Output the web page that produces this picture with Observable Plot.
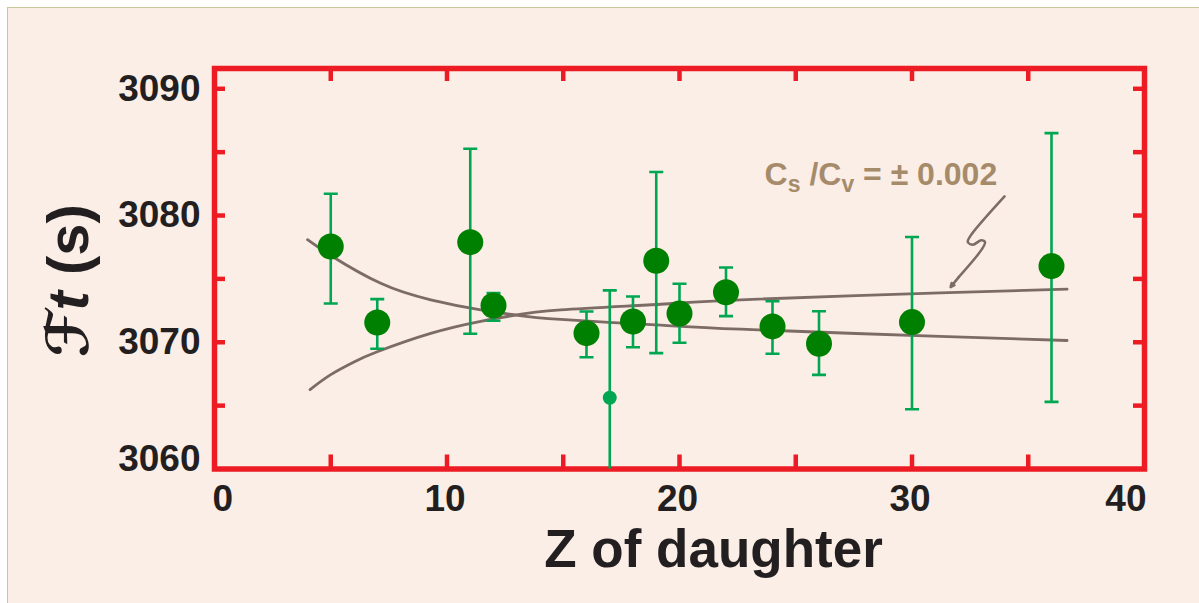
<!DOCTYPE html>
<html>
<head>
<meta charset="utf-8">
<script src="https://cdn.jsdelivr.net/npm/d3@7"></script>
<script src="https://cdn.jsdelivr.net/npm/@observablehq/plot@0.6"></script>
<style>
  html, body { margin: 0; padding: 0; background: #ffffff; overflow: hidden; }
  #wrap { position: absolute; left: 7px; top: 7px; width: 1200px; height: 600px;
          background: #fbeee6; border: 1.5px solid #cbc79d; }
  #chart { position: absolute; left: 0; top: 0; }
</style>
</head>
<body>
<div id="wrap"></div>
<div id="chart"></div>
<script>
// ---- Data: Z of daughter nucleus and corrected Ft values (s) ----
const Z      = [5, 7, 11, 12, 16, 17, 18, 19, 20, 22, 24, 26, 30, 36];
const ft     = [3077.56, 3071.56, 3077.90, 3072.90, 3070.72, 3065.62, 3071.64, 3076.43, 3072.27, 3073.95, 3071.25, 3069.88, 3071.59, 3076.01];
const ftLow  = [3073.06, 3069.49, 3070.67, 3071.70, 3068.82, 3057.15, 3069.61, 3069.14, 3069.96, 3072.06, 3069.09, 3067.43, 3064.72, 3065.30];
const ftHigh = [3081.72, 3073.40, 3085.27, 3073.88, 3072.43, 3074.09, 3073.61, 3083.43, 3074.62, 3075.90, 3073.24, 3072.45, 3078.30, 3086.50];
const excluded = [false, false, false, false, false, true, false, false, false, false, false, false, false, false];

// Curves for Cs/Cv = +0.002 and -0.002
const curveDecZ  = [4.0, 5.0, 7.15, 9.3, 11.45, 12.87, 14.89, 19.19, 22.63, 31.2, 36.67];
const curveDecFt = [3078.09, 3076.85, 3074.65, 3073.35, 3072.55, 3072.17, 3071.80, 3071.35, 3071.03, 3070.46, 3070.14];
const curveIncZ  = [4.11, 5.0, 6.0, 7.0, 9.3, 11.45, 12.87, 14.89, 19.19, 22.63, 31.2, 36.67];
const curveIncFt = [3066.27, 3067.45, 3068.45, 3069.25, 3070.70, 3071.65, 3072.12, 3072.55, 3073.00, 3073.35, 3073.90, 3074.19];

// Axis ticks
const xTickLabels = [0, 10, 20, 30, 40];
const xMinorTicks = [5, 10, 15, 20, 25, 30, 35];
const yTickLabels = [3060, 3070, 3080, 3090];
const yMinorTicks = [3065, 3070, 3075, 3080, 3085, 3090];

// Annotation
const annotationText = "Cs /Cv = ± 0.002";
const annotationAnchorZ = [23.66];
const annotationAnchorFt = [3082.37];
const arrowZ  = [33.98, 32.48, 32.40, 32.62, 32.98, 33.14, 33.02, 32.01];
const arrowFt = [3081.51, 3078.30, 3077.90, 3077.70, 3078.05, 3077.90, 3077.38, 3075.14];
const arrowTip = {z: 31.66, ft: 3074.35};

const xLabel = "Z of daughter";
const yLabel = "ℱt (s)";

// ---- Build tables ----
const points = Z.map((z, i) => ({z, ft: ft[i], lo: ftLow[i], hi: ftHigh[i], excl: excluded[i]}));
const mainPts = points.filter(d => !d.excl);
const exclPts = points.filter(d => d.excl);
const curveDec = curveDecZ.map((z, i) => ({z, ft: curveDecFt[i]}));
const curveInc = curveIncZ.map((z, i) => ({z, ft: curveIncFt[i]}));
const arrowLine = arrowZ.map((z, i) => ({z, ft: arrowFt[i]}));
const arrowLast = [{z1: arrowZ[arrowZ.length - 1], ft1: arrowFt[arrowFt.length - 1], z2: arrowTip.z, ft2: arrowTip.ft}];
const annotation = annotationAnchorZ.map((z, i) => ({z, ft: annotationAnchorFt[i]}));

const capSymbol = {
  draw(context, size) {
    const w = Math.sqrt(size / Math.PI);
    context.moveTo(-w, 0);
    context.lineTo(w, 0);
  }
};

const RED = "#ed1c24";
const GREEN_BAR = "#00a651";
const GREEN_DOT = "#008000";
const CURVE = "#7d6b66";
const TXT = "#231f20";
const FONT = "'Liberation Sans', Arial, Helvetica, sans-serif";
const lbl = d => String(d);

const plot = Plot.plot({
  width: 1199,
  height: 603,
  marginLeft: 214,
  marginRight: 55,
  marginTop: 68,
  marginBottom: 134.5,
  style: {background: "transparent", fontFamily: FONT, overflow: "visible"},
  x: {domain: [0, 40], axis: null},
  y: {domain: [3060, 3091.6], axis: null},
  marks: [
    // inward ticks on all four sides
    Plot.axisX(xMinorTicks, {anchor: "bottom", tickSize: -14, fill: "none", label: null, stroke: RED, strokeWidth: 4.5}),
    Plot.axisX(xMinorTicks, {anchor: "top", tickSize: -12, fill: "none", label: null, stroke: RED, strokeWidth: 4.5}),
    Plot.axisY(yMinorTicks, {anchor: "left", tickSize: -11, fill: "none", label: null, stroke: RED, strokeWidth: 4.5}),
    Plot.axisY(yMinorTicks, {anchor: "right", tickSize: -12, fill: "none", label: null, stroke: RED, strokeWidth: 4.5}),
    Plot.frame({stroke: RED, strokeWidth: 5.5}),

    // tick labels
    Plot.text(xTickLabels.filter(d => d === xTickLabels[0]), {x: d => d, text: lbl, frameAnchor: "bottom", textAnchor: "start", lineAnchor: "bottom", dy: 41.5, dx: -2, fontSize: 37, fontWeight: "bold", fill: TXT}),
    Plot.text(xTickLabels.slice(1, -1), {x: d => d, text: lbl, frameAnchor: "bottom", textAnchor: "middle", lineAnchor: "bottom", dy: 41.5, dx: -2, fontSize: 37, fontWeight: "bold", fill: TXT}),
    Plot.text(xTickLabels.filter(d => d === xTickLabels[xTickLabels.length - 1]), {x: d => d, text: lbl, frameAnchor: "bottom", textAnchor: "end", lineAnchor: "bottom", dy: 41.5, dx: 2, fontSize: 37, fontWeight: "bold", fill: TXT}),
    Plot.text(yTickLabels.slice(1), {y: d => d, text: lbl, frameAnchor: "left", textAnchor: "end", lineAnchor: "middle", dx: -14, fontSize: 37, fontWeight: "bold", fill: TXT}),
    Plot.text(yTickLabels.slice(0, 1), {y: d => d, text: lbl, frameAnchor: "left", textAnchor: "end", lineAnchor: "middle", dx: -14, dy: -9.5, fontSize: 37, fontWeight: "bold", fill: TXT}),

    // axis titles
    Plot.text([xLabel], {frameAnchor: "bottom", textAnchor: "middle", lineAnchor: "bottom", dx: 34, dy: 98, fontSize: 53, fontWeight: "bold", fill: TXT}),
    Plot.text([yLabel], {frameAnchor: "left", rotate: -90, textAnchor: "middle", lineAnchor: "bottom", dx: -127, dy: 12, fontSize: 58, fontWeight: "bold", fill: TXT}),

    // model curves
    Plot.line(curveDec, {x: "z", y: "ft", curve: "natural", stroke: CURVE, strokeWidth: 2.8}),
    Plot.line(curveInc, {x: "z", y: "ft", curve: "natural", stroke: CURVE, strokeWidth: 2.8}),

    // error bars and caps
    Plot.ruleX(points, {x: "z", y1: "lo", y2: "hi", stroke: GREEN_BAR, strokeWidth: 2.6, clip: true}),
    Plot.dot(points, {x: "z", y: "hi", symbol: capSymbol, r: 7, fill: "none", stroke: GREEN_BAR, strokeWidth: 2.6, clip: true}),
    Plot.dot(points, {x: "z", y: "lo", symbol: capSymbol, r: 7, fill: "none", stroke: GREEN_BAR, strokeWidth: 2.6, clip: true}),

    // data points
    Plot.dot(mainPts, {x: "z", y: "ft", r: 13, fill: GREEN_DOT, stroke: "none"}),
    Plot.dot(exclPts, {x: "z", y: "ft", r: 7, fill: GREEN_BAR, stroke: "none"}),

    // annotation
    Plot.line(arrowLine, {x: "z", y: "ft", curve: "catmull-rom", stroke: CURVE, strokeWidth: 2.5}),
    Plot.arrow(arrowLast, {x1: "z1", y1: "ft1", x2: "z2", y2: "ft2", stroke: CURVE, strokeWidth: 2.5, headLength: 14, headAngle: 50}),
    Plot.text(annotation, {x: "z", y: "ft", text: () => annotationText, textAnchor: "start", lineAnchor: "bottom", fontSize: 32, fontWeight: "bold", fill: "#a68b6b"})
  ]
});

document.getElementById("chart").appendChild(plot);

// Rich text: subscripts in the annotation, script F and italic t in the y title
const svg = d3.select(plot);
svg.selectAll("text").filter(function() { return this.textContent === annotationText; }).each(function() {
  const t = d3.select(this);
  t.text(null);
  t.append("tspan").text("C");
  t.append("tspan").attr("font-size", 23).attr("dy", 6.7).text("s");
  t.append("tspan").attr("dy", -6.7).text(" /C");
  t.append("tspan").attr("font-size", 23).attr("dy", 6.7).text("v");
  t.append("tspan").attr("dy", -6.7).text(" = ± 0.002");
});
svg.selectAll("text").filter(function() { return this.textContent === yLabel; }).each(function() {
  const t = d3.select(this);
  t.text(null);
  t.append("tspan").attr("font-family", "'DejaVu Sans', sans-serif").attr("font-style", "italic").text("ℱ");
  t.append("tspan").attr("font-style", "italic").text("t");
  t.append("tspan").text(" (s)");
});
</script>
</body>
</html>
